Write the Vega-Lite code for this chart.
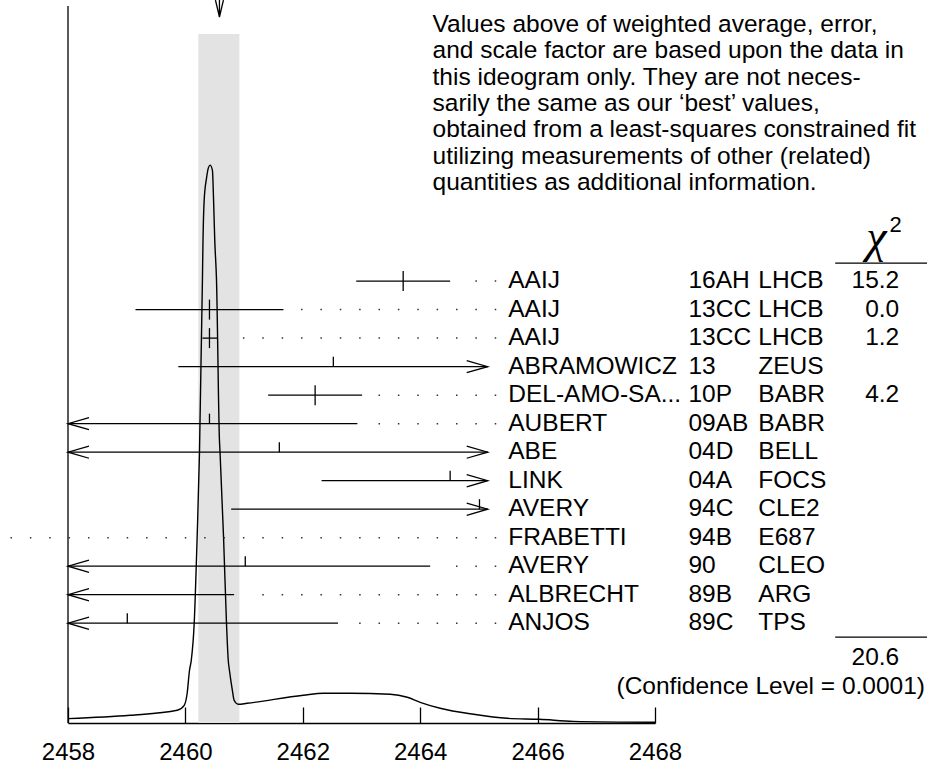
{
  "$schema": "https://vega.github.io/schema/vega-lite/v6.json",
  "width": 587,
  "height": 723,
  "autosize": "none",
  "padding": {"left": 68, "top": 0, "right": 272, "bottom": 40},
  "background": "white",
  "config": {
    "view": {"stroke": null},
    "text": {"font": "Liberation Sans", "fontSize": 24.5, "color": "black"},
    "axisX": {
      "grid": false, "domainColor": "black", "domainWidth": 1.3,
      "tickColor": "black", "tickWidth": 1.3, "tickSize": -16,
      "labelPadding": 33, "labelFlush": false,
      "labelFont": "Liberation Sans", "labelFontSize": 24, "labelColor": "black",
      "titleFontSize": 0, "titleOpacity": 0
    }
  },
  "datasets": {
    "meas": [
      {"row": 1, "name": "AAIJ", "ref": "16AH", "collab": "LHCB", "chi2": 15.2, "value": 2463.71, "lo": 2462.91, "hi": 2464.51, "used": true, "arrowL": false, "arrowR": false, "dotFrom": 2464.94},
      {"row": 2, "name": "AAIJ", "ref": "13CC", "collab": "LHCB", "chi2": 0.0, "value": 2460.41, "lo": 2459.15, "hi": 2461.67, "used": true, "arrowL": false, "arrowR": false, "dotFrom": 2461.97},
      {"row": 3, "name": "AAIJ", "ref": "13CC", "collab": "LHCB", "chi2": 1.2, "value": 2460.41, "lo": 2460.29, "hi": 2460.54, "used": true, "arrowL": false, "arrowR": false, "dotFrom": 2460.98},
      {"row": 4, "name": "ABRAMOWICZ", "ref": "13", "collab": "ZEUS", "chi2": null, "value": 2462.52, "lo": 2459.88, "hi": 2465.15, "used": false, "arrowL": false, "arrowR": true, "dotFrom": null},
      {"row": 5, "name": "DEL-AMO-SA...", "ref": "10P", "collab": "BABR", "chi2": 4.2, "value": 2462.21, "lo": 2461.41, "hi": 2463.01, "used": true, "arrowL": false, "arrowR": false, "dotFrom": 2463.29},
      {"row": 6, "name": "AUBERT", "ref": "09AB", "collab": "BABR", "chi2": null, "value": 2460.41, "lo": 2458, "hi": 2462.93, "used": false, "arrowL": true, "arrowR": false, "dotFrom": 2463.29},
      {"row": 7, "name": "ABE", "ref": "04D", "collab": "BELL", "chi2": null, "value": 2461.6, "lo": 2458, "hi": 2465.15, "used": false, "arrowL": true, "arrowR": true, "dotFrom": null},
      {"row": 8, "name": "LINK", "ref": "04A", "collab": "FOCS", "chi2": null, "value": 2464.51, "lo": 2462.32, "hi": 2465.15, "used": false, "arrowL": false, "arrowR": true, "dotFrom": null},
      {"row": 9, "name": "AVERY", "ref": "94C", "collab": "CLE2", "chi2": null, "value": 2465.01, "lo": 2460.78, "hi": 2465.15, "used": false, "arrowL": false, "arrowR": true, "dotFrom": null},
      {"row": 10, "name": "FRABETTI", "ref": "94B", "collab": "E687", "chi2": null, "value": 2453, "lo": null, "hi": null, "used": false, "arrowL": false, "arrowR": false, "dotFrom": 2457.02},
      {"row": 11, "name": "AVERY", "ref": "90", "collab": "CLEO", "chi2": null, "value": 2461.02, "lo": 2458, "hi": 2464.17, "used": false, "arrowL": true, "arrowR": false, "dotFrom": 2464.61},
      {"row": 12, "name": "ALBRECHT", "ref": "89B", "collab": "ARG", "chi2": null, "value": 2455, "lo": 2458, "hi": 2460.83, "used": false, "arrowL": true, "arrowR": false, "dotFrom": 2461.31},
      {"row": 13, "name": "ANJOS", "ref": "89C", "collab": "TPS", "chi2": null, "value": 2459.01, "lo": 2458, "hi": 2462.6, "used": false, "arrowL": true, "arrowR": false, "dotFrom": 2462.96}
    ],
    "ideo": [
      {"mass": 2458.0, "density": 0.0079},
      {"mass": 2459.06, "density": 0.0138},
      {"mass": 2459.86, "density": 0.0228},
      {"mass": 2459.98, "density": 0.0317},
      {"mass": 2460.03, "density": 0.0533},
      {"mass": 2460.07, "density": 0.0945},
      {"mass": 2460.10, "density": 0.1124},
      {"mass": 2460.15, "density": 0.1788},
      {"mass": 2460.20, "density": 0.333},
      {"mass": 2460.24, "density": 0.4854},
      {"mass": 2460.29, "density": 0.7938},
      {"mass": 2460.30, "density": 0.8655},
      {"mass": 2460.32, "density": 0.9372},
      {"mass": 2460.36, "density": 0.9767},
      {"mass": 2460.39, "density": 0.9946},
      {"mass": 2460.42, "density": 1.0},
      {"mass": 2460.46, "density": 0.991},
      {"mass": 2460.48, "density": 0.9372},
      {"mass": 2460.50, "density": 0.8655},
      {"mass": 2460.53, "density": 0.7938},
      {"mass": 2460.58, "density": 0.5069},
      {"mass": 2460.59, "density": 0.4854},
      {"mass": 2460.65, "density": 0.333},
      {"mass": 2460.70, "density": 0.1788},
      {"mass": 2460.73, "density": 0.1124},
      {"mass": 2460.75, "density": 0.0945},
      {"mass": 2460.80, "density": 0.0586},
      {"mass": 2460.83, "density": 0.0407},
      {"mass": 2460.90, "density": 0.0335},
      {"mass": 2461.05, "density": 0.0353},
      {"mass": 2462.01, "density": 0.0497},
      {"mass": 2462.35, "density": 0.0533},
      {"mass": 2462.81, "density": 0.0533},
      {"mass": 2463.49, "density": 0.0515},
      {"mass": 2463.78, "density": 0.0461},
      {"mass": 2464.00, "density": 0.0371},
      {"mass": 2464.34, "density": 0.0264},
      {"mass": 2464.91, "density": 0.0156},
      {"mass": 2465.48, "density": 0.0084},
      {"mass": 2466.03, "density": 0.0066},
      {"mass": 2466.61, "density": 0.003},
      {"mass": 2468.0, "density": 0.0013}
    ]
  },
  "resolve": {"scale": {"y": "independent"}},
  "layer": [
    {
      "layer": [
        {
          "data": {"values": [{"band": "weighted average ± error"}]},
          "mark": {"type": "rect", "color": "#e3e3e3"},
          "encoding": {
            "x": {"datum": 2460.22, "type": "quantitative", "scale": {"domain": [2458, 2468], "nice": false, "zero": false}, "axis": {"values": [2458, 2460, 2462, 2464, 2466, 2468], "format": "d", "title": null}},
            "x2": {"datum": 2460.92},
            "y": {"datum": 0, "type": "quantitative", "scale": {"domain": [0, 1.2959], "nice": false, "zero": false}, "axis": null},
            "y2": {"datum": 1.2349}
          }
        },
        {
          "data": {"name": "ideo"},
          "mark": {"type": "line", "color": "black", "strokeWidth": 1.4, "interpolate": "monotone"},
          "encoding": {
            "x": {"field": "mass", "type": "quantitative", "axis": {"values": [2458, 2460, 2462, 2464, 2466, 2468], "format": "d", "title": null}},
            "y": {"field": "density", "type": "quantitative", "scale": {"domain": [0, 1.2959], "nice": false, "zero": false}, "axis": null}
          }
        },
        {
          "data": {"values": [{"axis": "left"}]},
          "mark": {"type": "rule", "color": "black", "strokeWidth": 1.3},
          "encoding": {
            "x": {"datum": 2458, "type": "quantitative", "axis": {"values": [2458, 2460, 2462, 2464, 2466, 2468], "format": "d", "title": null}},
            "y": {"datum": 0, "type": "quantitative", "axis": null},
            "y2": {"datum": 1.2851}
          }
        },
        {
          "data": {"values": [{"marker": "weighted average"}]},
          "mark": {"type": "point", "shape": "M-0.235,-1L0,0L0.235,-1M0,-1L0,0", "size": 1156, "filled": false, "color": "black", "strokeWidth": 1.3, "opacity": 1},
          "encoding": {
            "x": {"datum": 2460.58, "type": "quantitative", "axis": {"values": [2458, 2460, 2462, 2464, 2466, 2468], "format": "d", "title": null}},
            "y": {"datum": 1.2654, "type": "quantitative", "axis": null}
          }
        }
      ]
    },
    {
      "layer": [
        {
          "data": {"name": "meas"},
          "transform": [{"filter": "datum.dotFrom != null"}],
          "mark": {"type": "rule", "color": "#333333", "strokeWidth": 1.5, "strokeDash": [1.5, 17.87]},
          "encoding": {
            "x": {"field": "dotFrom", "type": "quantitative", "axis": {"values": [2458, 2460, 2462, 2464, 2466, 2468], "format": "d", "title": null}},
            "x2": {"datum": 2465.31},
            "y": {"field": "row", "type": "quantitative", "scale": {"domain": [16.5, -8.86], "nice": false, "zero": false}, "axis": null}
          }
        },
        {
          "data": {"name": "meas"},
          "transform": [{"filter": "datum.lo != null"}],
          "mark": {"type": "rule", "color": "black", "strokeWidth": 1.3},
          "encoding": {
            "x": {"field": "lo", "type": "quantitative", "axis": {"values": [2458, 2460, 2462, 2464, 2466, 2468], "format": "d", "title": null}},
            "x2": {"field": "hi"},
            "y": {"field": "row", "type": "quantitative", "scale": {"domain": [16.5, -8.86], "nice": false, "zero": false}, "axis": null}
          }
        },
        {
          "data": {"name": "meas"},
          "transform": [{"filter": "datum.used && datum.value >= 2458"}],
          "mark": {"type": "tick", "orient": "vertical", "size": 20, "thickness": 1.3, "color": "black", "opacity": 1},
          "encoding": {
            "x": {"field": "value", "type": "quantitative", "axis": {"values": [2458, 2460, 2462, 2464, 2466, 2468], "format": "d", "title": null}},
            "y": {"field": "row", "type": "quantitative", "scale": {"domain": [16.5, -8.86], "nice": false, "zero": false}, "axis": null}
          }
        },
        {
          "data": {"name": "meas"},
          "transform": [{"filter": "!datum.used && datum.value >= 2458 && datum.value <= 2465.15"}],
          "mark": {"type": "tick", "orient": "vertical", "size": 10, "yOffset": -5, "thickness": 1.3, "color": "black", "opacity": 1},
          "encoding": {
            "x": {"field": "value", "type": "quantitative", "axis": {"values": [2458, 2460, 2462, 2464, 2466, 2468], "format": "d", "title": null}},
            "y": {"field": "row", "type": "quantitative", "scale": {"domain": [16.5, -8.86], "nice": false, "zero": false}, "axis": null}
          }
        },
        {
          "data": {"name": "meas"},
          "transform": [{"filter": "datum.arrowL"}],
          "mark": {"type": "point", "shape": "M1,-0.29L0,0L1,0.29", "size": 1764, "filled": false, "color": "black", "strokeWidth": 1.3, "opacity": 1},
          "encoding": {
            "x": {"datum": 2458, "type": "quantitative", "axis": {"values": [2458, 2460, 2462, 2464, 2466, 2468], "format": "d", "title": null}},
            "y": {"field": "row", "type": "quantitative", "scale": {"domain": [16.5, -8.86], "nice": false, "zero": false}, "axis": null}
          }
        },
        {
          "data": {"name": "meas"},
          "transform": [{"filter": "datum.arrowR"}],
          "mark": {"type": "point", "shape": "M-1,-0.29L0,0L-1,0.29", "size": 1764, "filled": false, "color": "black", "strokeWidth": 1.3, "opacity": 1},
          "encoding": {
            "x": {"datum": 2465.15, "type": "quantitative", "axis": {"values": [2458, 2460, 2462, 2464, 2466, 2468], "format": "d", "title": null}},
            "y": {"field": "row", "type": "quantitative", "scale": {"domain": [16.5, -8.86], "nice": false, "zero": false}, "axis": null}
          }
        },
        {
          "data": {"name": "meas"},
          "mark": {"type": "text", "align": "left", "baseline": "middle"},
          "encoding": {
            "x": {"datum": 2465.5, "type": "quantitative", "axis": {"values": [2458, 2460, 2462, 2464, 2466, 2468], "format": "d", "title": null}},
            "y": {"field": "row", "type": "quantitative", "scale": {"domain": [16.5, -8.86], "nice": false, "zero": false}, "axis": null},
            "text": {"field": "name"}
          }
        },
        {
          "data": {"name": "meas"},
          "mark": {"type": "text", "align": "left", "baseline": "middle"},
          "encoding": {
            "x": {"datum": 2468.57, "type": "quantitative", "axis": {"values": [2458, 2460, 2462, 2464, 2466, 2468], "format": "d", "title": null}},
            "y": {"field": "row", "type": "quantitative", "scale": {"domain": [16.5, -8.86], "nice": false, "zero": false}, "axis": null},
            "text": {"field": "ref"}
          }
        },
        {
          "data": {"name": "meas"},
          "mark": {"type": "text", "align": "left", "baseline": "middle"},
          "encoding": {
            "x": {"datum": 2469.76, "type": "quantitative", "axis": {"values": [2458, 2460, 2462, 2464, 2466, 2468], "format": "d", "title": null}},
            "y": {"field": "row", "type": "quantitative", "scale": {"domain": [16.5, -8.86], "nice": false, "zero": false}, "axis": null},
            "text": {"field": "collab"}
          }
        },
        {
          "data": {"name": "meas"},
          "transform": [{"filter": "datum.chi2 != null"}],
          "mark": {"type": "text", "align": "right", "baseline": "middle"},
          "encoding": {
            "x": {"datum": 2472.16, "type": "quantitative", "axis": {"values": [2458, 2460, 2462, 2464, 2466, 2468], "format": "d", "title": null}},
            "y": {"field": "row", "type": "quantitative", "scale": {"domain": [16.5, -8.86], "nice": false, "zero": false}, "axis": null},
            "text": {"field": "chi2", "type": "quantitative", "format": ".1f"}
          }
        },
        {
          "data": {"values": [{"t": "χ"}]},
          "mark": {"type": "text", "align": "center", "baseline": "alphabetic", "font": "Liberation Serif", "fontStyle": "italic", "fontSize": 46},
          "encoding": {
            "x": {"datum": 2471.77, "type": "quantitative", "axis": {"values": [2458, 2460, 2462, 2464, 2466, 2468], "format": "d", "title": null}},
            "y": {"datum": -0.02, "type": "quantitative", "axis": null},
            "text": {"field": "t"}
          }
        },
        {
          "data": {"values": [{"t": "2"}]},
          "mark": {"type": "text", "align": "center", "baseline": "alphabetic", "fontSize": 22},
          "encoding": {
            "x": {"datum": 2472.1, "type": "quantitative", "axis": {"values": [2458, 2460, 2462, 2464, 2466, 2468], "format": "d", "title": null}},
            "y": {"datum": -0.72, "type": "quantitative", "axis": null},
            "text": {"field": "t"}
          }
        },
        {
          "data": {"values": [{"line": "header"}]},
          "mark": {"type": "rule", "color": "black", "strokeWidth": 1.3},
          "encoding": {
            "x": {"datum": 2471.07, "type": "quantitative", "axis": {"values": [2458, 2460, 2462, 2464, 2466, 2468], "format": "d", "title": null}},
            "x2": {"datum": 2472.64},
            "y": {"datum": 0.37, "type": "quantitative", "axis": null}
          }
        },
        {
          "data": {"values": [{"line": "sum"}]},
          "mark": {"type": "rule", "color": "black", "strokeWidth": 1.3},
          "encoding": {
            "x": {"datum": 2471.07, "type": "quantitative", "axis": {"values": [2458, 2460, 2462, 2464, 2466, 2468], "format": "d", "title": null}},
            "x2": {"datum": 2472.64},
            "y": {"datum": 13.49, "type": "quantitative", "axis": null}
          }
        },
        {
          "data": {"values": [{"t": "20.6"}]},
          "mark": {"type": "text", "align": "right", "baseline": "middle"},
          "encoding": {
            "x": {"datum": 2472.16, "type": "quantitative", "axis": {"values": [2458, 2460, 2462, 2464, 2466, 2468], "format": "d", "title": null}},
            "y": {"datum": 14.23, "type": "quantitative", "axis": null},
            "text": {"field": "t"}
          }
        },
        {
          "data": {"values": [{"t": "(Confidence Level = 0.0001)"}]},
          "mark": {"type": "text", "align": "right", "baseline": "middle"},
          "encoding": {
            "x": {"datum": 2472.6, "type": "quantitative", "axis": {"values": [2458, 2460, 2462, 2464, 2466, 2468], "format": "d", "title": null}},
            "y": {"datum": 15.25, "type": "quantitative", "axis": null},
            "text": {"field": "t"}
          }
        },
        {
          "data": {"values": [{"t": "Values above of weighted average, error,\nand scale factor are based upon the data in\nthis ideogram only.  They are not neces-\nsarily the same as our ‘best’ values,\nobtained from a least-squares constrained fit\nutilizing measurements of other (related)\nquantities as additional information."}]},
          "mark": {"type": "text", "align": "left", "baseline": "middle", "lineBreak": "\n", "lineHeight": 26.3},
          "encoding": {
            "x": {"datum": 2464.21, "type": "quantitative", "axis": {"values": [2458, 2460, 2462, 2464, 2466, 2468], "format": "d", "title": null}},
            "y": {"datum": -7.98, "type": "quantitative", "axis": null},
            "text": {"field": "t"}
          }
        }
      ]
    }
  ]
}
